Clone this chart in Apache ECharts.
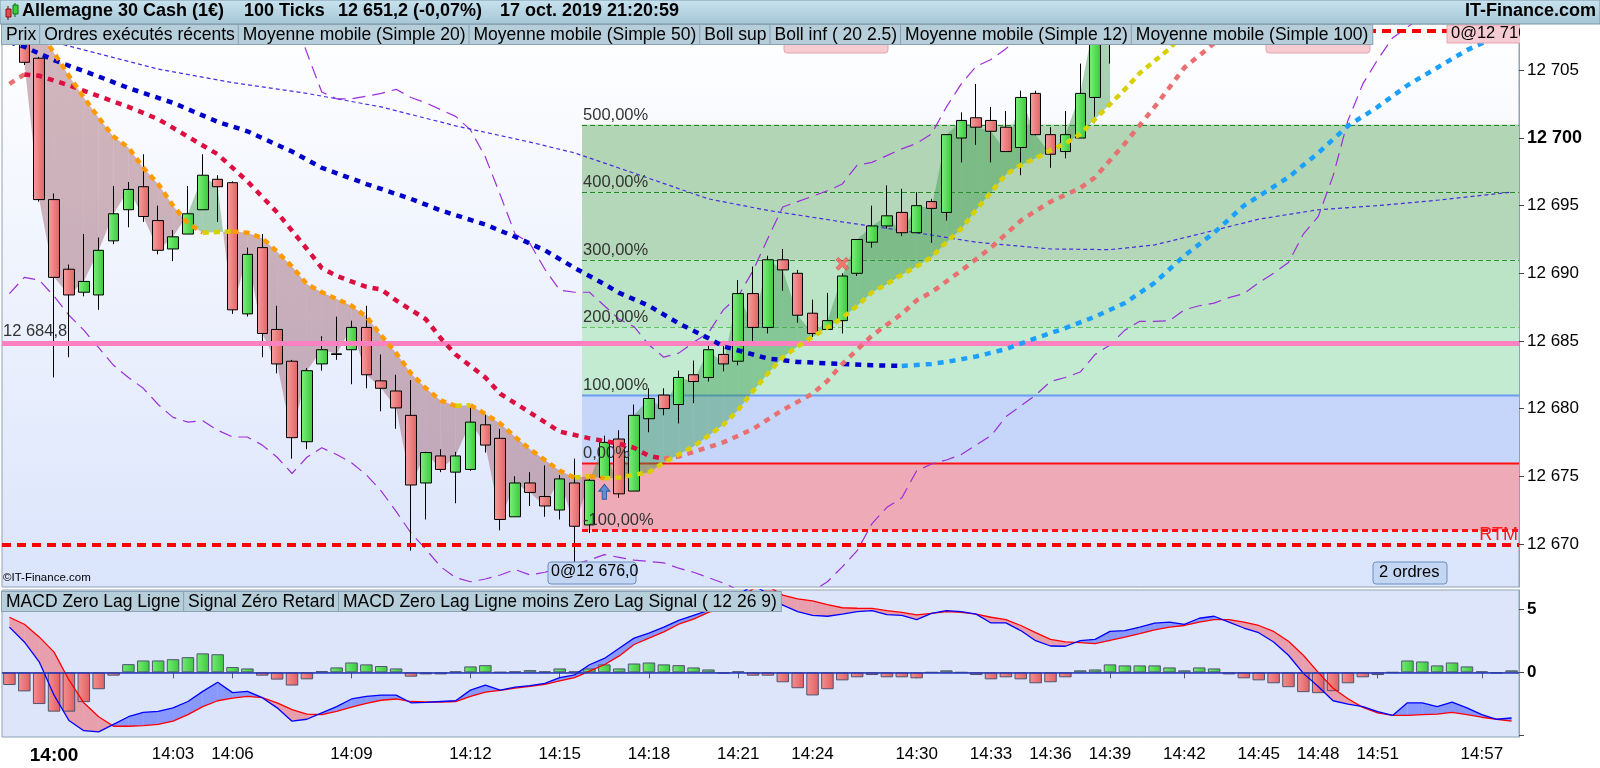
<!DOCTYPE html>
<html lang="fr">
<head>
<meta charset="UTF-8">
<title>Allemagne 30 Cash - 100 Ticks</title>
<script src="https://cdn.jsdelivr.net/npm/echarts@6/dist/echarts.min.js"></script>
<style>
  html, body { margin: 0; padding: 0; background: #fff; }
  #chart { width: 1600px; height: 768px; }
</style>
</head>
<body>
<div id="chart"></div>
<script>
/*
 * donnees (une bougie = 100 ticks)
 */
var nBars = 102;
var tickIdx = [3, 11, 15, 23, 31, 37, 43, 49, 54, 61, 66, 70, 74, 79, 84, 88, 92, 99];
var tickLbl = ['14:00','14:03','14:06','14:09','14:12','14:15','14:18','14:21','14:24',
               '14:30','14:33','14:36','14:39','14:42','14:45','14:48','14:51','14:57'];

// bougies 0..74 (au-dela : hors du cadre)
var opens = [null,12707.8,12705.9,12695.45,12690.3,12688.6,12688.4,12692.4,12694.7,12696.4,
  12693.9,12691.8,12692.9,12694.7,12696.95,12696.7,12687.0,12691.9,12685.85,12683.5,
  12677.55,12683.3,12684.0,12684.35,12686.0,12682.05,12681.3,12679.5,12674.5,12676.5,
  12675.3,12675.5,12678.8,12677.8,12672.0,12674.5,12673.5,12672.5,12674.5,12671.4,
  12674.9,12677.75,12673.9,12679.25,12681.0,12680.3,12682.5,12682.3,12684.0,12683.5,
  12688.5,12686.0,12691.0,12690.0,12687.05,12685.85,12686.5,12690.0,12692.3,12693.5,
  12694.5,12693.0,12695.3,12694.5,12700.0,12701.5,12701.3,12700.8,12699.3,12703.3,
  12700.25,12699.0,12700.0,12703.0,12709.0];
var closes = [null,12705.6,12695.45,12689.7,12688.4,12689.4,12691.7,12694.4,12696.2,12694.2,
  12691.7,12692.7,12694.4,12697.25,12696.4,12687.3,12691.4,12685.55,12683.3,12677.85,
  12682.8,12684.35,12684.05,12686.0,12682.5,12681.5,12680.05,12674.35,12676.75,12675.5,
  12676.5,12679.0,12677.3,12671.8,12674.5,12673.8,12672.8,12674.8,12671.3,12674.7,
  12677.5,12673.7,12679.5,12680.75,12680.0,12682.3,12682.0,12684.35,12683.3,12688.5,
  12686.0,12691.0,12690.25,12686.9,12685.55,12686.5,12689.8,12692.5,12693.5,12694.25,
  12693.0,12695.0,12694.8,12700.25,12701.3,12700.8,12700.5,12699.0,12703.0,12700.25,
  12698.8,12700.25,12703.3,12709.0,12711.0];
var lows = [null,12705.4,12695.3,12682.3,12683.8,12688.3,12687.3,12692.15,12693.4,12693.8,
  12691.4,12690.9,12692.9,12694.7,12693.8,12687.0,12686.8,12683.8,12682.6,12676.3,
  12677.0,12682.8,12683.6,12681.8,12681.5,12679.8,12678.5,12669.5,12671.8,12675.3,
  12673.0,12675.4,12676.75,12671.0,12672.0,12672.8,12672.0,12671.8,12668.6,12670.8,
  12674.9,12673.4,12673.9,12678.25,12679.5,12678.9,12680.4,12682.0,12682.75,12683.2,
  12685.0,12685.55,12688.7,12686.35,12685.3,12685.85,12685.55,12689.8,12691.9,12693.3,
  12692.75,12693.0,12692.25,12693.9,12698.2,12699.5,12698.2,12699.0,12697.25,12700.2,
  12697.8,12698.5,12700.0,12701.1,12705.5];
var highs = [null,12708.2,12706.0,12695.9,12690.65,12692.9,12692.65,12696.45,12696.75,12698.8,
  12695.0,12693.2,12696.45,12698.8,12697.25,12696.8,12691.9,12692.9,12687.6,12683.6,
  12683.0,12685.35,12686.8,12686.5,12687.6,12684.0,12682.5,12682.1,12676.8,12677.0,
  12676.8,12680.1,12679.55,12678.5,12675.0,12675.3,12675.8,12675.1,12676.3,12674.8,
  12678.0,12678.4,12680.3,12681.5,12681.5,12682.8,12683.55,12684.8,12684.7,12689.5,
  12690.5,12691.3,12691.8,12690.25,12688.05,12688.55,12690.0,12692.5,12695.0,12696.5,
  12696.25,12696.0,12695.5,12700.3,12701.9,12704.0,12702.3,12702.0,12703.5,12703.5,
  12700.8,12702.0,12705.5,12710.0,12712.0];

// moyenne mobile 12 (une valeur par bougie)
var sma12 = [12709.5,12708.5,12707.9,12706.3,12704.6,12703.0,12701.5,12700.1,12699.3,12697.8,
  12696.6,12695.0,12693.7,12693.0,12693.05,12693.1,12693.0,12692.6,12691.6,12690.5,
  12689.2,12688.6,12688.1,12687.6,12686.8,12685.4,12684.1,12682.6,12681.5,12680.6,
  12680.2,12680.25,12679.6,12678.9,12677.9,12677.0,12676.2,12675.4,12674.9,12675.0,
  12674.85,12674.9,12675.1,12675.3,12676.0,12676.6,12677.2,12678.0,12678.8,12679.9,
  12681.3,12682.6,12683.8,12684.6,12685.3,12686.0,12686.7,12687.6,12688.6,12689.2,
  12689.9,12690.5,12691.2,12692.3,12693.3,12694.7,12696.0,12697.3,12698.0,12698.5,
  12699.1,12699.6,12700.3,12701.4,12702.5,12703.6,12704.8,12705.7,12706.6,12707.8,
  12709.0,12710.2];

// autres courbes : [bougie, valeur]
var sma20 = [[0,12704.0],[1,12704.7],[2,12704.6],[4,12703.9],[6,12703.1],[8,12702.3],[10,12701.4],
  [12,12700.1],[14,12698.8],[16,12696.8],[18,12694.5],[20,12691.8],[21,12690.4],[22,12689.8],
  [24,12689.0],[25,12688.8],[26,12688.0],[28,12686.6],[29,12685.2],[30,12684.0],[32,12682.3],
  [33,12681.1],[35,12679.7],[37,12678.3],[39,12677.8],[41,12677.4],[42,12677.1],[43,12676.5],
  [44,12676.3],[45,12676.45],[48,12677.5],[50,12678.5],[52,12679.9],[54,12681.1],[55,12682.05],
  [56,12683.3],[58,12685.4],[60,12687.0],[61,12688.0],[62,12688.6],[64,12690.2],[66,12691.9],
  [68,12693.9],[70,12695.3],[72,12696.3],[73,12697.1],[75,12699.6],[77,12702.3],[79,12705.2],
  [81,12707.0],[83,12709.0]];
var sma50 = [[0,12707.1],[1,12706.75],[3,12705.75],[6,12704.55],[8,12703.7],[11,12702.6],[14,12701.2],
  [16,12700.5],[19,12699.0],[21,12697.8],[24,12696.6],[27,12695.5],[29,12694.65],[32,12693.6],
  [34,12692.7],[36,12691.7],[38,12690.4],[40,12689.2],[41,12688.55],[43,12687.6],[45,12686.3],
  [47,12685.2],[48,12684.6],[50,12684.0],[51,12683.7],[53,12683.45],[56,12683.3],[58,12683.2],
  [60,12683.15],[62,12683.3],[63,12683.45],[65,12683.85],[67,12684.4],[69,12685.2],[71,12685.95],
  [73,12686.8],[75,12687.8],[77,12689.3],[79,12691.3],[81,12693.0],[83,12695.0],[86,12697.1],
  [88,12698.9],[90,12700.9],[92,12702.3],[94,12703.9],[96,12705.2],[98,12706.5],[100,12707.5],
  [101,12708.0]];
var sma100 = [[0,12708.0],[4,12706.8],[10,12705.1],[15,12704.1],[20,12703.3],[25,12702.3],[30,12700.9],
  [35,12699.7],[38,12698.9],[42,12697.4],[47,12695.5],[51,12694.65],[56,12693.8],[61,12693.0],
  [65,12692.3],[70,12691.8],[74,12691.75],[77,12692.1],[80,12692.9],[84,12694.0],[88,12694.7],
  [92,12695.0],[96,12695.4],[101,12696.0]];
var bollUp = [[19,12709.5],[20,12706.3],[21,12703.4],[22,12702.9],[23,12702.9],[24,12703.1],[25,12703.3],
  [26,12703.6],[27,12703.0],[28,12702.6],[29,12702.1],[30,12701.6],[31,12700.6],[32,12698.6],
  [33,12695.8],[34,12692.9],[35,12692.2],[36,12690.3],[37,12688.75],[38,12688.6],[39,12688.6],
  [40,12687.6],[41,12686.6],[42,12686.05],[43,12684.7],[44,12683.8],[45,12684.1],[46,12684.9],
  [47,12685.6],[48,12687.3],[49,12688.3],[50,12690.2],[51,12692.6],[52,12694.9],[53,12695.3],
  [54,12695.7],[55,12696.1],[56,12696.6],[57,12698.0],[58,12698.2],[59,12698.7],[60,12699.2],
  [61,12699.6],[62,12700.3],[63,12702.3],[64,12704.0],[65,12705.3],[66,12705.8],[67,12706.6],
  [68,12707.6],[69,12709.0],[70,12710.0]];
var bollDn = [[0,12688.5],[1,12689.7],[2,12689.5],[3,12688.3],[4,12686.9],[5,12685.8],[6,12684.5],
  [7,12683.2],[8,12682.3],[9,12681.5],[10,12680.3],[11,12679.35],[12,12679.0],[13,12679.1],
  [14,12678.4],[15,12677.9],[16,12677.9],[17,12677.3],[18,12676.4],[19,12675.2],[20,12676.4],
  [21,12677.1],[22,12676.6],[23,12676.0],[24,12675.1],[25,12673.9],[26,12672.4],[27,12670.8],
  [28,12669.6],[29,12668.3],[30,12667.5],[31,12667.2],[32,12667.4],[33,12667.7],[34,12668.1],
  [35,12667.7],[36,12667.9],[37,12668.2],[38,12668.5],[39,12668.8],[40,12669.2],[41,12669.0],
  [42,12668.8],[43,12668.7],[44,12668.6],[45,12668.2],[46,12667.9],[47,12667.5],[48,12667.1],
  [49,12666.6],[50,12666.0],[51,12665.6],[52,12665.5],[53,12665.9],[54,12666.5],[55,12667.2],
  [56,12668.3],[57,12669.5],[58,12671.5],[59,12672.7],[60,12673.4],[61,12675.4],[62,12675.9],
  [63,12676.2],[64,12676.6],[65,12677.3],[66,12678.0],[67,12679.4],[68,12680.2],[69,12681.0],
  [70,12682.0],[71,12682.3],[72,12682.7],[73,12684.0],[74,12684.7],[75,12685.8],[76,12686.45],
  [77,12686.45],[78,12686.5],[79,12687.3],[80,12687.6],[81,12687.8],[82,12688.2],[83,12688.5],
  [84,12689.3],[85,12690.0],[86,12690.8],[87,12692.9],[88,12694.2],[89,12697.2],[90,12701.3],
  [91,12704.0],[92,12705.8],[93,12707.4],[94,12708.2],[95,12709.0]];

// MACD zero lag (12 26 9)
var macdLine = [3.57,2.4,0.83,-1.8,-3.8,-4.6,-4.7,-4.1,-3.5,-3.15,
  -3.07,-2.8,-2.3,-1.5,-0.78,-1.6,-1.5,-2.0,-2.8,-3.85,
  -3.7,-3.2,-2.7,-2.1,-1.9,-1.8,-1.8,-2.4,-2.37,-2.3,
  -2.24,-1.4,-1.0,-1.4,-1.17,-1.04,-0.86,-0.42,-0.2,0.6,
  1.1,1.9,2.7,3.1,3.57,4.1,4.5,4.9,5.3,6.1,
  6.9,6.2,5.3,4.8,4.5,4.43,4.6,4.8,4.87,4.56,
  4.5,4.17,4.66,4.87,4.8,4.6,3.9,3.9,3.3,2.5,
  2.08,2.06,2.5,2.6,3.23,3.3,3.57,3.88,3.96,3.78,
  4.27,4.43,3.96,3.5,3.13,2.4,1.35,-0.08,-1.12,-2.24,
  -2.5,-2.7,-3.1,-3.4,-2.4,-2.4,-2.7,-2.34,-2.8,-3.33,
  -3.7,-3.6];
var macdSignal = [4.35,3.8,2.8,1.6,-0.6,-2.4,-3.5,-4.25,-4.25,-4.2,
  -4.1,-3.85,-3.33,-2.7,-2.24,-2.03,-1.9,-2.0,-2.4,-2.94,
  -3.3,-3.33,-3.07,-2.75,-2.45,-2.2,-2.1,-2.3,-2.34,-2.34,
  -2.3,-1.9,-1.56,-1.42,-1.25,-1.1,-0.94,-0.68,-0.42,0.1,
  0.6,1.3,2.2,2.7,3.2,3.8,4.2,4.74,5.1,5.7,
  6.6,6.8,6.1,5.8,5.65,5.34,5.1,5.06,5.05,4.87,
  4.74,4.53,4.66,4.79,4.74,4.6,4.35,4.17,3.7,3.13,
  2.6,2.4,2.34,2.27,2.53,2.79,3.05,3.36,3.57,3.7,
  3.96,4.17,4.17,3.96,3.7,3.23,2.45,1.35,0,-1.25,
  -2.08,-2.76,-3.2,-3.4,-3.4,-3.33,-3.3,-3.15,-3.33,-3.54,
  -3.7,-3.85];
var macdHist = [-1.0,-1.5,-2.5,-3.1,-3.1,-2.35,-1.33,-0.26,0.65,0.94,
  0.94,1.04,1.2,1.5,1.43,0.42,0.31,-0.26,-0.57,-1.04,
  -0.55,0.1,0.39,0.78,0.63,0.5,0.31,-0.34,-0.16,-0.16,
  0.08,0.47,0.57,0.02,0.08,0.18,0.08,0.31,0.08,0.31,
  0.63,0.31,0.7,0.78,0.63,0.57,0.39,0.23,-0.1,0.08,
  -0.26,-0.26,-0.78,-1.25,-1.82,-1.33,-0.63,-0.39,-0.21,-0.39,
  -0.39,-0.47,0,0.16,0,-0.21,-0.55,-0.39,-0.55,-0.86,
  -0.78,-0.39,0.16,0.23,0.63,0.55,0.55,0.55,0.39,0.16,
  0.39,0.31,-0.16,-0.47,-0.63,-0.86,-1.17,-1.56,-1.64,-1.48,
  -0.86,-0.39,-0.21,0,0.94,0.86,0.55,0.78,0.47,0.08,
  -0.08,0.16];

// zone de projection de la position
var fibStart = 39;
var fibPct = [-100, 0, 100, 200, 300, 400, 500];
var fibPrice = [12671, 12676, 12681, 12686, 12691, 12696, 12701];

var pivotLevel = 12684.8;
var stopLevel = 12669.9;
var orderLevel = 12707.9;
var buyMarks = [[40, 12673.85]];
var exitMarks = [[56, 12690.7]];

/*
 * mise en forme
 */
var FONT = '"Liberation Sans", Arial, sans-serif';
var zoneFill = ['#eeaab6', '#c6d6fb', '#c2ebd1', '#bbe3c6', '#b3d7b8', '#b2d5b5'];
var zoneLine = [
  {stroke: '#ff1010', lineWidth: 3, lineDash: [6, 4]},
  {stroke: '#ff1010', lineWidth: 2, lineDash: null},
  {stroke: '#6a9cf0', lineWidth: 2, lineDash: null},
  {stroke: '#5ac85a', lineWidth: 1, lineDash: [5, 3]},
  {stroke: '#2a952a', lineWidth: 1, lineDash: [5, 3]},
  {stroke: '#1c8a1c', lineWidth: 1, lineDash: [5, 3]},
  {stroke: '#1c8a1c', lineWidth: 1, lineDash: [5, 3]}
];

function frNum(v, dec) {
  var s = Math.abs(v).toFixed(dec).split('.');
  var ip = s[0].replace(/\B(?=(\d{3})+(?!\d))/g, ' ');
  return (v < 0 ? '-' : '') + ip + (dec ? ',' + s[1] : '');
}
function clipOf(params) {
  var cs = params.coordSys;
  return {type: 'rect', shape: {x: cs.x, y: cs.y, width: cs.width, height: cs.height}};
}
function lerp(a, b, t) { return [a[0] + (b[0] - a[0]) * t, a[1] + (b[1] - a[1]) * t]; }

var cats = [];
for (var i = 0; i < nBars; i++) cats.push(String(i));
var tickText = {};
tickIdx.forEach(function (b, k) { tickText[b] = tickLbl[k]; });
function isTick(idx) { return tickText[idx] !== undefined; }

var candleData = cats.map(function (c, i) {
  return opens[i] == null ? '-' : [opens[i], closes[i], lows[i], highs[i]];
});

/* courbe pointillee qui change de couleur selon la pente */
function trendLine(pts, upCol, dnCol, width, dash, z) {
  return {
    type: 'custom', xAxisIndex: 0, yAxisIndex: 0, z: z, silent: true, clip: true,
    data: [[pts[0][0], pts[0][1]]], encode: {x: 0, y: 1},
    renderItem: function (params, api) {
      var runs = [], cur = null;
      for (var k = 0; k + 1 < pts.length; k++) {
        var col = pts[k + 1][1] >= pts[k][1] ? upCol : dnCol;
        var a = api.coord(pts[k]), b = api.coord(pts[k + 1]);
        if (!cur || cur.col !== col) { cur = {col: col, p: [a]}; runs.push(cur); }
        cur.p.push(b);
      }
      return {
        type: 'group', clipPath: clipOf(params),
        children: runs.map(function (r) {
          return {type: 'polyline', shape: {points: r.p},
            style: {stroke: r.col, lineWidth: width, lineDash: dash, fill: null}};
        })
      };
    }
  };
}

/* remplissage entre deux series (couleur selon le signe de l'ecart) */
function bandFill(topArr, botArr, upCol, dnCol, z, gi) {
  return {
    type: 'custom', xAxisIndex: gi, yAxisIndex: gi, z: z, silent: true, clip: true,
    data: [[0, botArr[1] || 0]], encode: {x: 0, y: 1},
    renderItem: function (params, api) {
      var kids = [];
      function poly(p, c) { kids.push({type: 'polygon', shape: {points: p}, style: {fill: c, stroke: null}}); }
      for (var i = 0; i + 1 < nBars; i++) {
        var a0 = topArr[i], a1 = topArr[i + 1], b0 = botArr[i], b1 = botArr[i + 1];
        if (a0 == null || a1 == null || b0 == null || b1 == null) continue;
        var A0 = api.coord([i, a0]), A1 = api.coord([i + 1, a1]);
        var B0 = api.coord([i, b0]), B1 = api.coord([i + 1, b1]);
        var d0 = a0 - b0, d1 = a1 - b1;
        if (d0 * d1 >= 0) {
          poly([A0, A1, B1, B0], (d0 + d1) >= 0 ? upCol : dnCol);
        } else {
          var t = d0 / (d0 - d1), M = lerp(A0, A1, t);
          poly([A0, M, B0], d0 > 0 ? upCol : dnCol);
          poly([M, A1, B1], d1 > 0 ? upCol : dnCol);
        }
      }
      return {type: 'group', clipPath: clipOf(params), children: kids};
    }
  };
}

function grad(c1, c2) {
  return new echarts.graphic.LinearGradient(0, 0, 1, 0, [{offset: 0, color: c1}, {offset: 1, color: c2}]);
}

var myChart = echarts.init(document.getElementById('chart'), null, {renderer: 'canvas'});

var legendItems = [
  ['Prix', '#000000'], ['Ordres exécutés récents', '#e86464'], ['Moyenne mobile (Simple 20)', '#e46c6c'],
  ['Moyenne mobile (Simple 50)', '#0a0ad0'], ['Boll sup', '#9420d0'], ['Boll inf ( 20 2.5)', '#9420d0'],
  ['Moyenne mobile (Simple 12)', '#ff9900'], ['Moyenne mobile (Simple 100)', '#3a12cc']
];
var macdLegend = [
  ['MACD Zero Lag Ligne', '#0000ff'], ['Signal Zéro Retard', '#ff0000'],
  ['MACD Zero Lag Ligne moins Zero Lag Signal ( 12 26 9)', '#e87a7a']
];
function legendText(items) {
  var txt = '', rich = {};
  items.forEach(function (it, k) {
    txt += '{i' + k + '|' + it[0] + '}';
    rich['i' + k] = {color: it[1], fontSize: 17.5, fontFamily: FONT, backgroundColor: '#b6cdda',
      borderColor: '#8aa2b2', borderWidth: 1, padding: [1, 4, 0, 4], height: 18, lineHeight: 19};
  });
  return {text: txt, rich: rich};
}

var lg1 = legendText(legendItems), lg2 = legendText(macdLegend);

var option = {
  animation: false,
  backgroundColor: '#ffffff',
  textStyle: {fontFamily: FONT},
  grid: [
    {left: 2, width: 1517, top: 24, height: 563, show: true, borderColor: '#8fa3b3', borderWidth: 1,
     outerBoundsMode: 'none',
     backgroundColor: new echarts.graphic.LinearGradient(0, 0, 0, 1,
       [{offset: 0, color: '#ffffff'}, {offset: 1, color: '#dae4fb'}])},
    {left: 2, width: 1517, top: 590, height: 147, show: true, borderColor: '#8fa3b3', borderWidth: 1,
     outerBoundsMode: 'none', backgroundColor: '#dce5fa'}
  ],
  xAxis: [
    {type: 'category', gridIndex: 0, data: cats, boundaryGap: true, show: false},
    {type: 'category', gridIndex: 1, data: cats, boundaryGap: true,
     axisLine: {show: true, lineStyle: {color: '#8fa3b3'}},
     axisTick: {show: true, alignWithLabel: true, interval: function (idx) { return isTick(idx); },
                length: 6, lineStyle: {color: '#556'}},
     axisLabel: {show: true, interval: function (idx) { return isTick(idx); }, margin: 9,
       color: '#000', fontSize: 17,
       formatter: function (v, idx) {
         var t = tickText[+v];
         if (t === undefined) return '';
         return t === '14:00' ? '{b|' + t + '}' : t;
       },
       rich: {b: {fontWeight: 'bold', fontSize: 19, color: '#000'}}},
     splitLine: {show: false}}
  ],
  yAxis: [
    {type: 'value', gridIndex: 0, position: 'right', min: 12666.81, max: 12708.43, splitNumber: 8,
     axisLine: {show: true, lineStyle: {color: '#8fa3b3'}},
     axisTick: {show: true, length: 5, lineStyle: {color: '#444'}},
     axisLabel: {color: '#000', fontSize: 17, margin: 8, showMinLabel: false, showMaxLabel: false,
       formatter: function (v) { return v % 100 === 0 ? '{b|' + frNum(v, 0) + '}' : frNum(v, 0); },
       rich: {b: {fontWeight: 'bold', fontSize: 18, color: '#000'}}},
     splitLine: {show: false}},
    {type: 'value', gridIndex: 1, position: 'right', min: -5.1, max: 6.5, splitNumber: 2,
     axisLine: {show: true, lineStyle: {color: '#8fa3b3'}},
     axisTick: {show: true, length: 5, lineStyle: {color: '#444'}},
     axisLabel: {color: '#000', fontSize: 17, fontWeight: 'bold', margin: 8,
       showMinLabel: false, showMaxLabel: false,
       formatter: function (v) { return v < 0 ? '' : String(v); }},
     splitLine: {show: false}}
  ],
  series: [
    // zone de projection
    {
      type: 'custom', xAxisIndex: 0, yAxisIndex: 0, z: 1, silent: true, clip: true,
      data: [[fibStart, fibPrice[0]]], encode: {x: 0, y: 1},
      renderItem: function (params, api) {
        var cs = params.coordSys;
        var x0 = api.coord([fibStart, fibPrice[0]])[0] - api.size([1, 0])[0] / 2;
        var x1 = cs.x + cs.width;
        var kids = [];
        for (var k = 0; k + 1 < fibPrice.length; k++) {
          var ya = api.coord([fibStart, fibPrice[k]])[1], yb = api.coord([fibStart, fibPrice[k + 1]])[1];
          kids.push({type: 'rect', shape: {x: x0, y: yb, width: x1 - x0, height: ya - yb},
                     style: {fill: zoneFill[k]}});
        }
        fibPrice.forEach(function (p, k) {
          var y = Math.round(api.coord([fibStart, p])[1]) + 0.5;
          kids.push({type: 'line', shape: {x1: x0, y1: y, x2: x1, y2: y},
                     style: {stroke: zoneLine[k].stroke, lineWidth: zoneLine[k].lineWidth,
                             lineDash: zoneLine[k].lineDash}});
        });
        return {type: 'group', clipPath: clipOf(params), children: kids};
      }
    },
    // remplissage prix / moyenne 12
    bandFill(closes, sma12, 'rgba(50,150,70,0.42)', 'rgba(150,80,95,0.42)', 2, 0),
    // niveaux horizontaux
    {
      type: 'line', xAxisIndex: 0, yAxisIndex: 0, z: 3, data: [], silent: true,
      markLine: {
        silent: true, symbol: ['none', 'none'], animation: false,
        label: {show: false},
        data: [
          {yAxis: pivotLevel, lineStyle: {color: '#ff80c0', width: 5, type: 'solid'},
           label: {show: true, position: 'insideStartTop', distance: [1, 4], formatter: frNum(pivotLevel, 1),
                   color: '#333', fontSize: 16.5}},
          {yAxis: stopLevel, lineStyle: {color: '#ff0000', width: 4, type: [9, 6]}},
          {yAxis: orderLevel, lineStyle: {color: '#ff0000', width: 4, type: [9, 6]}}
        ]
      }
    },
    // bandes de Bollinger et moyenne 100
    {type: 'line', xAxisIndex: 0, yAxisIndex: 0, z: 3, data: bollUp, symbol: 'none', silent: true,
     lineStyle: {color: '#9b30d9', width: 1.2, type: [13, 7]}},
    {type: 'line', xAxisIndex: 0, yAxisIndex: 0, z: 3, data: bollDn, symbol: 'none', silent: true,
     lineStyle: {color: '#9b30d9', width: 1.2, type: [13, 7]}},
    {type: 'line', xAxisIndex: 0, yAxisIndex: 0, z: 3, data: sma100, symbol: 'none', silent: true,
     lineStyle: {color: '#4a2ee0', width: 1.2, type: [4, 3]}},
    // bougies
    {
      type: 'candlestick', xAxisIndex: 0, yAxisIndex: 0, z: 4, clip: true, barWidth: 11, silent: true,
      data: candleData,
      itemStyle: {color: grad('#7df27d', '#38c838'), color0: grad('#f6a0a0', '#e06262'),
                  borderColor: '#000', borderColor0: '#000', borderWidth: 1}
    },
    // moyennes mobiles
    trendLine(sma50, '#1aa0ff', '#0000c8', 4.5, [6, 6], 6),
    trendLine(sma20, '#e87070', '#dc1040', 4.5, [6, 6], 6),
    trendLine(sma12.map(function (v, i) { return [i, v]; }), '#d8d000', '#ff9a00', 4.5, [6, 5], 7),
    // ordres
    {type: 'scatter', xAxisIndex: 0, yAxisIndex: 0, z: 8, silent: true, data: buyMarks,
     symbol: 'path://M5,0 L10,6 L7,6 L7,13 L3,13 L3,6 L0,6 Z', symbolSize: [11, 15],
     itemStyle: {color: '#3a86e0', borderColor: '#1b4a90', borderWidth: 1}},
    {type: 'scatter', xAxisIndex: 0, yAxisIndex: 0, z: 8, silent: true, data: exitMarks,
     symbol: 'path://M2,0 L5,3 L8,0 L10,2 L7,5 L10,8 L8,10 L5,7 L2,10 L0,8 L3,5 L0,2 Z', symbolSize: 13,
     itemStyle: {color: '#ff5c5c', borderColor: '#c03030', borderWidth: 0.5}},
    // etiquettes de la zone
    {
      type: 'custom', xAxisIndex: 0, yAxisIndex: 0, z: 9, silent: true, clip: true,
      data: [[fibStart, fibPrice[0]]], encode: {x: 0, y: 1},
      renderItem: function (params, api) {
        var cs = params.coordSys;
        var x0 = api.coord([fibStart, fibPrice[0]])[0] - api.size([1, 0])[0] / 2;
        var kids = fibPct.map(function (p, k) {
          var y = api.coord([fibStart, fibPrice[k]])[1];
          return {type: 'text', x: x0 + 1, y: y - 1,
                  style: {text: frNum(p, 2) + '%', fill: '#333', font: '16.5px ' + FONT,
                          textAlign: 'left', textVerticalAlign: 'bottom'}};
        });
        var yr = api.coord([fibStart, fibPrice[0]])[1];
        kids.push({type: 'text', x: cs.x + cs.width - 1, y: yr + 5,
                   style: {text: 'RTM', fill: '#ff1a1a', font: '18px ' + FONT,
                           textAlign: 'right', textVerticalAlign: 'middle'}});
        return {type: 'group', children: kids};
      }
    },
    // MACD
    bandFill(macdLine, macdSignal, 'rgba(70,90,255,0.55)', 'rgba(240,100,110,0.55)', 2, 1),
    {
      type: 'bar', xAxisIndex: 1, yAxisIndex: 1, z: 3, barWidth: 12.5, silent: true, data: macdHist,
      itemStyle: {
        color: function (p) { return p.value >= 0 ? grad('#74ec74', '#3cc83c') : grad('#f49090', '#e06060'); },
        borderColor: function (p) { return p.value >= 0 ? '#1f8a1f' : '#b03a3a'; },
        borderWidth: 1
      },
      markLine: {silent: true, symbol: ['none', 'none'], label: {show: false}, animation: false,
                 data: [{yAxis: 0, lineStyle: {color: '#2436b8', width: 1.5, type: 'solid'}}]}
    },
    {type: 'line', xAxisIndex: 1, yAxisIndex: 1, z: 4, data: macdSignal, symbol: 'none', silent: true,
     lineStyle: {color: '#ff0000', width: 1.3}},
    {type: 'line', xAxisIndex: 1, yAxisIndex: 1, z: 4, data: macdLine, symbol: 'none', silent: true,
     lineStyle: {color: '#0000ff', width: 1.3}}
  ],
  graphic: [
    // bandeau du haut
    {type: 'rect', z: 100, shape: {x: 0, y: 0, width: 1600, height: 24},
     style: {fill: new echarts.graphic.LinearGradient(0, 0, 0, 1,
       [{offset: 0, color: '#c9e3ef'}, {offset: 1, color: '#a5c5d5'}]), stroke: '#7d98a9', lineWidth: 1}},
    {type: 'line', z: 101, shape: {x1: 8, y1: 6, x2: 8, y2: 20}, style: {stroke: '#700', lineWidth: 1}},
    {type: 'rect', z: 102, shape: {x: 6, y: 9, width: 5, height: 8}, style: {fill: '#e84a4a', stroke: '#8a1010'}},
    {type: 'line', z: 101, shape: {x1: 15, y1: 3, x2: 15, y2: 17}, style: {stroke: '#060', lineWidth: 1}},
    {type: 'rect', z: 102, shape: {x: 13, y: 5, width: 5, height: 9}, style: {fill: '#3ccf3c', stroke: '#107010'}},
    {type: 'text', z: 102, left: 22, top: 2, style: {text: 'Allemagne 30 Cash (1€)', font: 'bold 18px ' + FONT, fill: '#000'}},
    {type: 'text', z: 102, left: 244, top: 2, style: {text: '100 Ticks', font: 'bold 18px ' + FONT, fill: '#000'}},
    {type: 'text', z: 102, left: 338, top: 2, style: {text: '12 651,2 (-0,07%)', font: 'bold 18px ' + FONT, fill: '#000'}},
    {type: 'text', z: 102, left: 500, top: 2, style: {text: '17 oct. 2019 21:20:59', font: 'bold 18px ' + FONT, fill: '#000'}},
    {type: 'text', z: 102, right: 4, top: 2, style: {text: 'IT-Finance.com', font: 'bold 18px ' + FONT, fill: '#000'}},
    // etiquettes d'ordres en haut (partiellement cachees)
    {type: 'rect', z: 90, shape: {x: 784, y: 30, width: 104, height: 23, r: 3},
     style: {fill: '#f6ccd2', stroke: '#e4a4ac'}},
    {type: 'rect', z: 90, shape: {x: 1266, y: 30, width: 104, height: 23, r: 3},
     style: {fill: '#f6ccd2', stroke: '#e4a4ac'}},
    {type: 'rect', z: 90, shape: {x: 1447, y: 25, width: 82, height: 18},
     style: {fill: '#f6ccd2', stroke: '#e4a4ac'}},
    {type: 'text', z: 91, left: 1451, top: 25, style: {text: '0@12 710,0', font: '16.5px ' + FONT, fill: '#000'}},
    {type: 'rect', z: 92, shape: {x: 1520, y: 24, width: 80, height: 22}, style: {fill: '#ffffff'}},
    // legende du prix
    {type: 'text', z: 100, left: 1, top: 24, style: {text: lg1.text, rich: lg1.rich, font: '17.5px ' + FONT}},
    // legende du MACD
    {type: 'text', z: 100, left: 1, top: 591, style: {text: lg2.text, rich: lg2.rich, font: '17.5px ' + FONT}},
    // etiquettes du bas du graphique
    {type: 'rect', z: 100, shape: {x: 548, y: 562, width: 88, height: 22, r: 3},
     style: {fill: '#c3d6f3', stroke: '#6d8fc0', lineWidth: 1}},
    {type: 'text', z: 101, left: 551, top: 564, style: {text: '0@' + frNum(fibPrice[1], 1), font: '16px ' + FONT, fill: '#000'}},
    {type: 'rect', z: 100, shape: {x: 1373, y: 562, width: 74, height: 22, r: 3},
     style: {fill: '#c3d6f3', stroke: '#6d8fc0', lineWidth: 1}},
    {type: 'text', z: 101, left: 1379, top: 564, style: {text: '2 ordres', font: '16.5px ' + FONT, fill: '#000'}},
    {type: 'text', z: 100, left: 3, top: 572, style: {text: '©IT-Finance.com', font: '11.5px ' + FONT, fill: '#000'}}
  ]
};

myChart.setOption(option);
</script>
</html>
